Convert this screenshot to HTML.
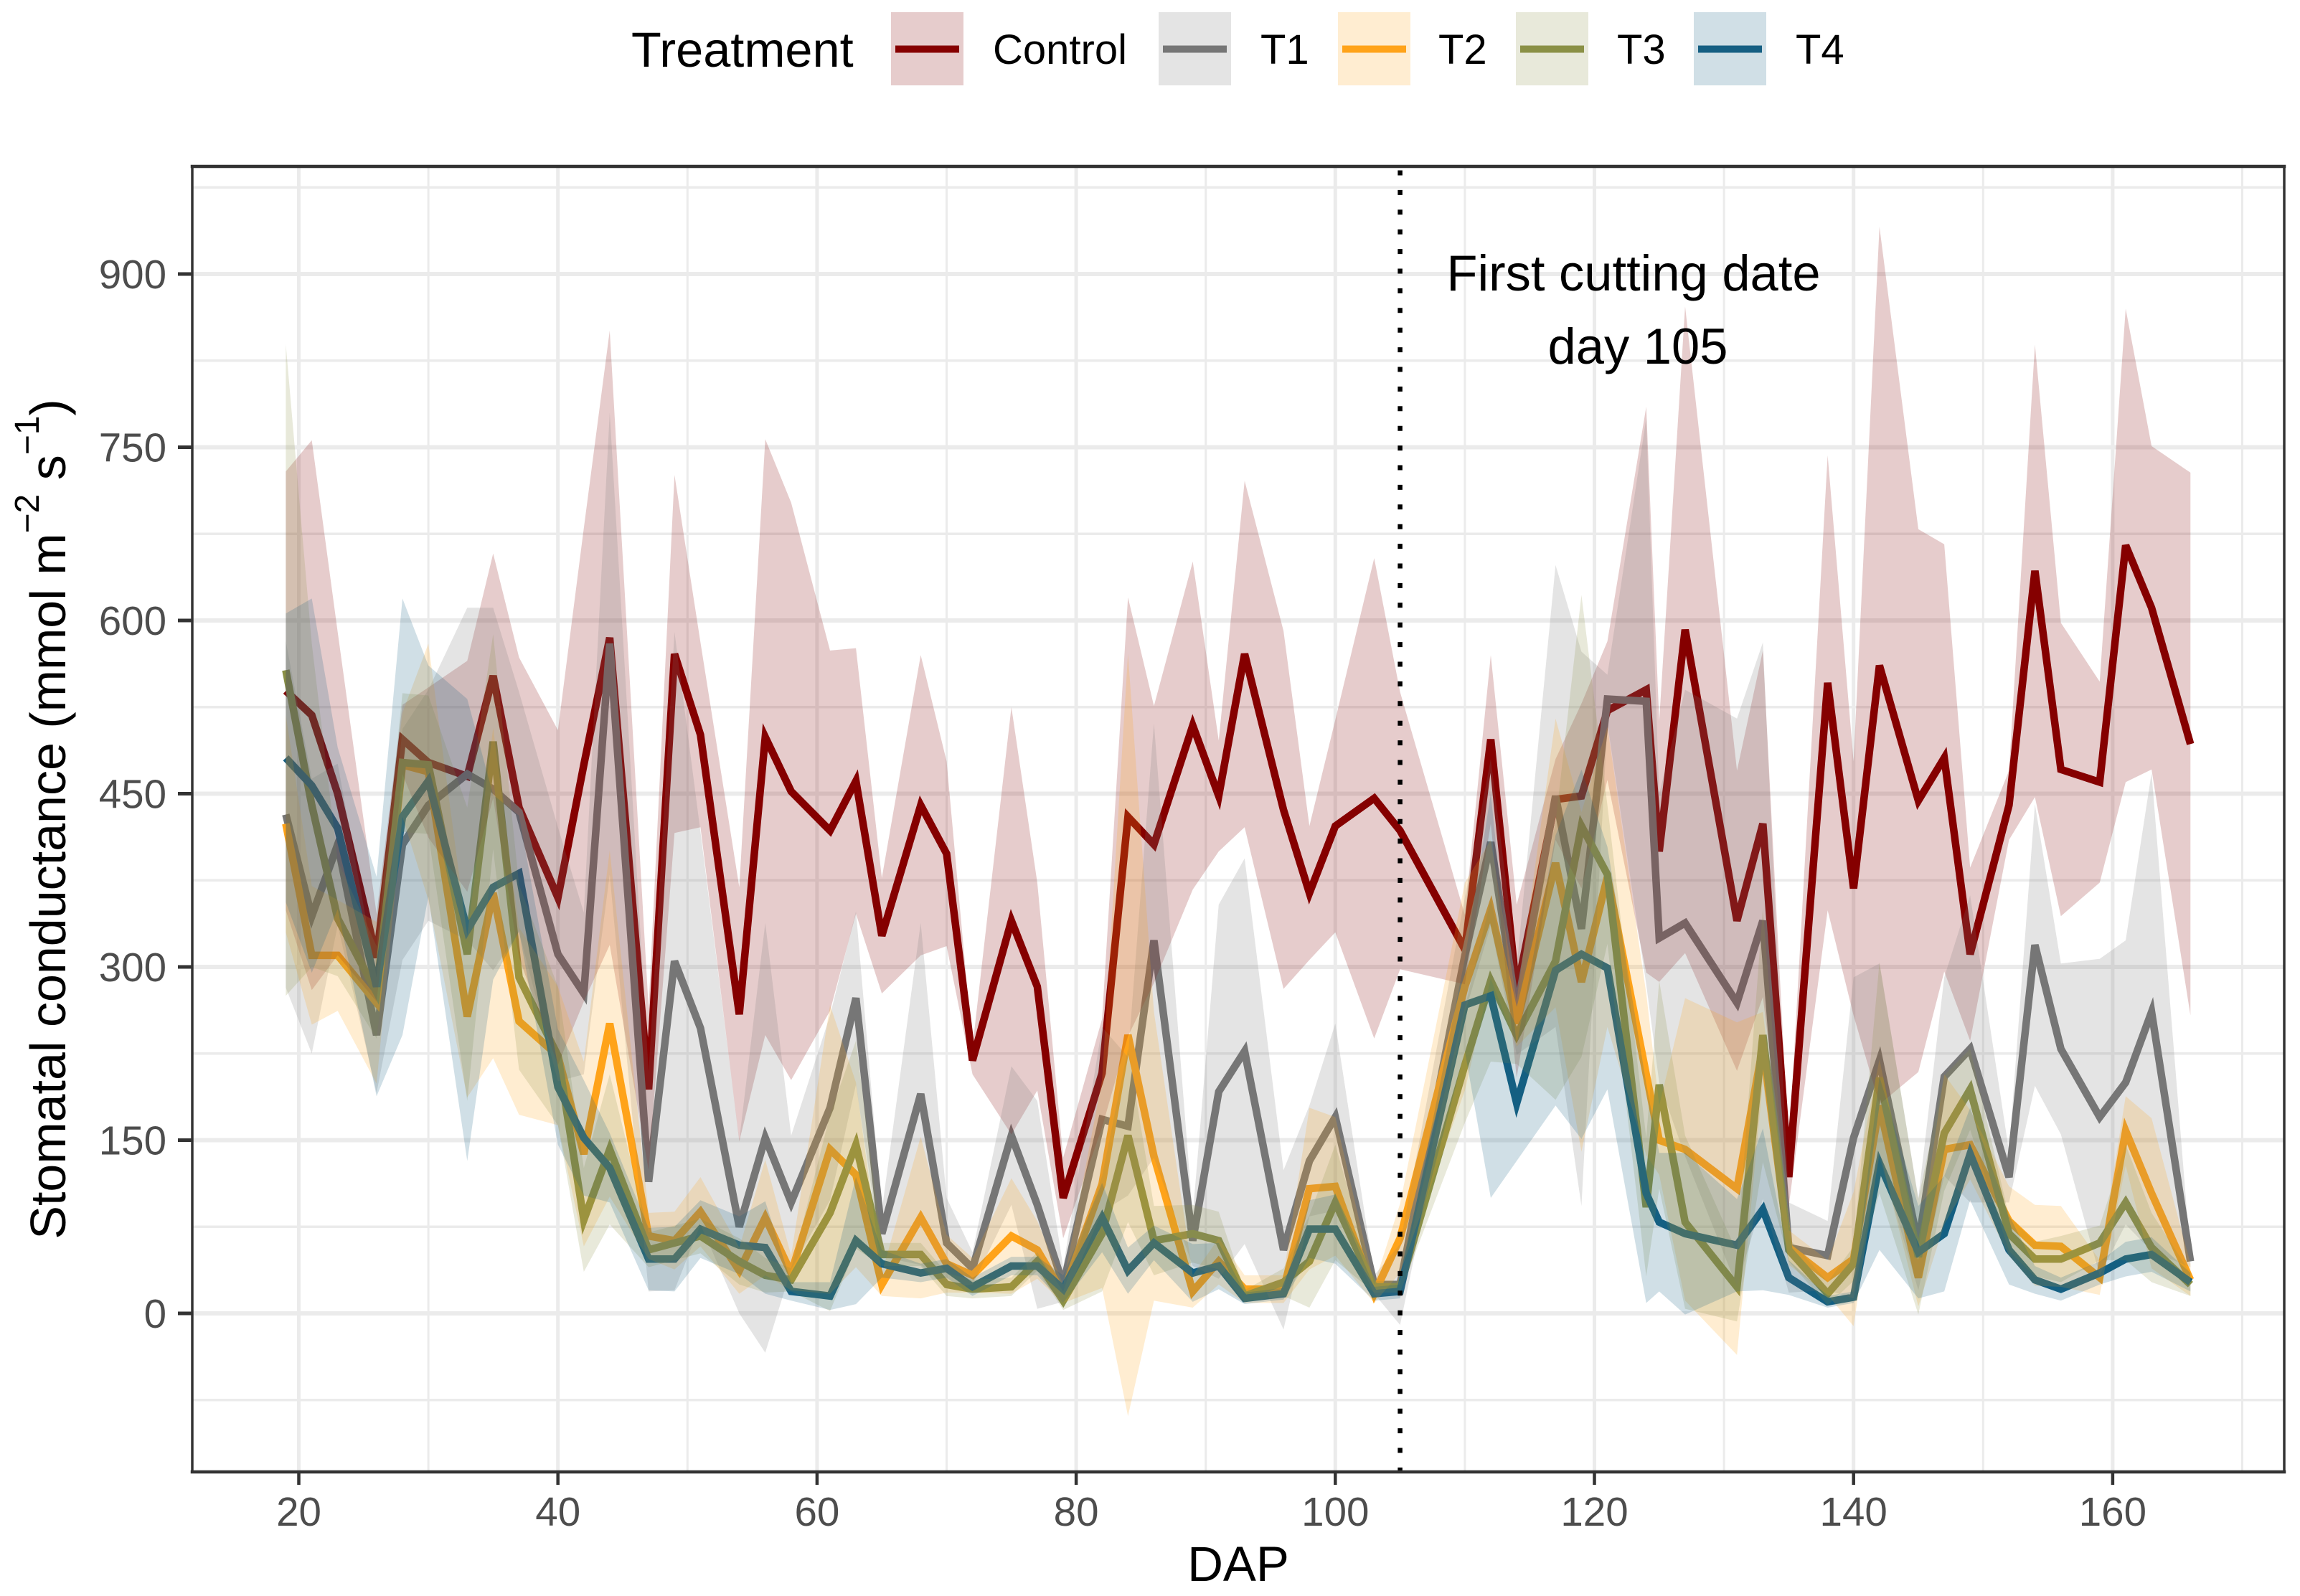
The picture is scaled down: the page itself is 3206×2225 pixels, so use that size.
<!DOCTYPE html>
<html lang="en">
<head>
<meta charset="utf-8">
<title>Stomatal conductance by treatment</title>
<style>
html,body{margin:0;padding:0;background:#fff;}
svg{display:block;}
text{font-family:"Liberation Sans",Arial,sans-serif;}
</style>
</head>
<body>
<svg id="chart" xmlns="http://www.w3.org/2000/svg" width="3206" height="2225" viewBox="0 0 3206 2225">
  <rect x="0" y="0" width="3206" height="2225" fill="#ffffff"/>
  <g id="grid"></g>
  <g id="lines"></g>
  <g id="ribbons"></g>
  <line id="cutline" stroke="#000" stroke-width="6.5" stroke-dasharray="7 20.4"/>
  <g id="frame"></g>
  <g id="axes"></g>

  <text x="2277" y="405" font-size="70.5" text-anchor="middle" fill="#000">First cutting date</text>
  <text x="2283" y="507" font-size="70.5" text-anchor="middle" fill="#000">day 105</text>

  <text x="1726" y="2204" font-size="69" text-anchor="middle" fill="#000">DAP</text>
  <text transform="translate(91 1142) rotate(-90)" font-size="70" text-anchor="middle" fill="#000">Stomatal conductance (mmol m<tspan font-size="48" dy="-37">−2</tspan><tspan dy="37"> s</tspan><tspan font-size="48" dy="-37">−1</tspan><tspan dy="37">)</tspan></text>

  <g id="legend">
    <text x="880" y="93" font-size="68.5" fill="#000">Treatment</text>
  </g>
</svg>
<script>
const days = [19,21,23,26,28,30,33,35,37,40,42,44,47,49,51,54,56,58,61,63,65,68,70,72,75,77,79,82,84,86,89,91,93,96,98,100,103,105,110,112,114,117,119,121,124,125,127,131,133,135,138,140,142,145,147,149,152,154,156,159,161,163,166];

const controlMean = [539,518,450,308,497,477,465,552,438,360,475,585,194,571,501,259,499,452,418,461,327,440,398,219,340,283,100,208,430,406,509,448,571,436,364,422,446,418,315,497,279,445,448,522,540,400,592,340,424,118,546,368,561,444,481,311,440,643,471,460,665,611,493];
const controlErr = [190,238,140,38,30,65,100,106,130,145,205,266,70,155,80,110,258,250,156,115,50,130,80,12,185,90,35,47,190,120,142,48,150,155,58,92,208,120,30,73,75,35,80,60,245,113,280,130,150,25,197,110,380,235,185,75,30,196,127,87,205,140,235];

const t1Mean = [432,344,406,241,406,440,467,454,434,311,277,580,114,305,247,75,152,96,178,273,69,190,61,39,154,94,25,168,162,323,63,192,227,55,132,170,25,25,310,408,262,448,333,532,530,325,338,269,340,57,50,152,219,60,205,229,118,319,229,170,200,261,45];
const t1Err = [150,119,70,50,100,100,144,157,104,110,70,200,95,285,170,75,186,58,80,75,20,148,39,14,60,90,15,80,60,188,22,162,167,69,48,81,8,35,50,72,38,200,240,21,245,125,202,246,241,39,30,139,84,40,86,133,22,122,74,137,123,207,5];

const t2Mean = [424,310,310,269,475,469,257,364,253,223,138,251,67,63,88,37,83,35,142,120,25,83,43,33,67,55,17,112,241,136,19,45,21,21,108,110,17,65,283,350,251,390,287,378,207,150,142,108,231,57,31,47,180,31,142,146,80,59,58,31,158,104,29];
const t2Err = [94,60,48,70,45,111,70,143,81,60,80,150,20,25,30,20,50,15,125,80,10,70,25,15,50,25,8,90,330,125,14,20,12,12,70,60,8,30,90,60,20,125,147,130,70,30,131,144,30,15,15,58,40,25,65,30,30,35,35,15,30,65,14];

const t3Mean = [557,440,342,278,477,475,311,495,291,223,81,142,55,61,67,45,33,29,87,146,51,51,25,21,23,45,11,69,154,63,69,63,15,27,45,96,23,23,215,288,241,305,422,380,92,198,79,23,241,55,17,43,204,49,156,194,69,47,47,61,96,57,25];
const t3Err = [282,140,50,40,60,60,127,93,80,60,45,65,15,15,15,20,15,10,85,90,10,10,10,8,8,8,8,50,75,30,25,25,5,12,40,50,5,5,50,70,25,120,200,60,60,90,75,30,110,10,10,15,100,50,50,35,15,15,20,15,50,30,10];

const t4Mean = [481,457,420,283,430,461,332,369,381,196,152,126,47,47,73,59,57,19,15,63,43,35,39,23,41,41,21,83,37,61,35,41,13,17,73,73,17,19,267,275,182,297,311,299,104,79,69,59,90,31,10,14,130,53,69,138,55,29,21,35,47,51,27];
const t4Err = [125,162,70,95,189,100,200,80,50,50,50,30,27,28,25,25,40,8,12,55,12,8,8,8,8,8,12,30,20,15,25,20,5,5,25,30,6,6,40,175,50,117,160,105,95,60,70,40,70,15,5,5,75,40,50,40,30,12,10,10,15,15,8];

const seriesNames = ["Control","T1","T2","T3","T4"];
const seriesColors = ["#860000","#767676","#ffa319","#8a9045","#155f83"];
const ribbonColors = ["#800000","#767676","#ffa319","#8a9045","#155f83"];
const seriesMeans = [controlMean,t1Mean,t2Mean,t3Mean,t4Mean];
const seriesErrs = [controlErr,t1Err,t2Err,t3Err,t4Err];

const xMajorTicks = [20,40,60,80,100,120,140,160];
const xMinorTicks = [30,50,70,90,110,130,150,170];
const yMajorTicks = [0,150,300,450,600,750,900];
const yMinorTicks = [-75,75,225,375,525,675,825,975];
const cutDay = 105;

const panel = {left:268, right:3184, top:232, bottom:2052};
const NS = "http://www.w3.org/2000/svg";
function xScale(d){ return 416.5 + 18.06 * (d - 20); }
function yScale(v){ return 1831 - 1.61 * v; }
function make(tag, parent, attrs){
  const el = document.createElementNS(NS, tag);
  for (const k in attrs) el.setAttribute(k, attrs[k]);
  parent.appendChild(el);
  return el;
}

const grid = document.getElementById("grid");
yMinorTicks.forEach(v => {
  const el = make("line", grid, {x1:panel.left, x2:panel.right, y1:yScale(v), y2:yScale(v), stroke:"#ebebeb", "stroke-width":3.5});
  
  
});
xMinorTicks.forEach(d => {
  const el = make("line", grid, {x1:xScale(d), x2:xScale(d), y1:panel.top, y2:panel.bottom, stroke:"#ebebeb", "stroke-width":3});
  
  
});
yMajorTicks.forEach(v => {
  const el = make("line", grid, {x1:panel.left, x2:panel.right, y1:yScale(v), y2:yScale(v), stroke:"#ebebeb", "stroke-width":6});
  
  
});
xMajorTicks.forEach(d => {
  const el = make("line", grid, {x1:xScale(d), x2:xScale(d), y1:panel.top, y2:panel.bottom, stroke:"#ebebeb", "stroke-width":5});
  
  
});

const linesG = document.getElementById("lines");
const ribbonsG = document.getElementById("ribbons");
seriesNames.forEach((name, s) => {
  const mean = seriesMeans[s];
  const err = seriesErrs[s];
  const linePts = days.map((d, i) => xScale(d).toFixed(1) + "," + yScale(mean[i]).toFixed(1));
  const upper = days.map((d, i) => xScale(d).toFixed(1) + "," + yScale(mean[i] + err[i]).toFixed(1));
  const lower = days.map((d, i) => xScale(d).toFixed(1) + "," + yScale(mean[i] - err[i]).toFixed(1)).reverse();
  const line = make("polyline", linesG, {points:linePts.join(" "), fill:"none", stroke:seriesColors[s], "stroke-width":10.5, "stroke-linejoin":"miter", "stroke-miterlimit":4});
  
  
  const rib = make("polygon", ribbonsG, {points:upper.concat(lower).join(" "), fill:ribbonColors[s], "fill-opacity":0.2, stroke:"none"});
  
  
});

const cut = document.getElementById("cutline");
cut.setAttribute("x1", xScale(cutDay));
cut.setAttribute("x2", xScale(cutDay));
cut.setAttribute("y1", 237.5);
cut.setAttribute("y2", panel.bottom);

const frame = document.getElementById("frame");
const frameSides = [
  ["panel-border-left", panel.left, panel.top, panel.left, panel.bottom, 3.5],
  ["panel-border-right", panel.right, panel.top, panel.right, panel.bottom, 3.5],
  ["panel-border-top", panel.left, panel.top, panel.right, panel.top, 4.5],
  ["panel-border-bottom", panel.left, panel.bottom, panel.right, panel.bottom, 4.5]
];
frameSides.forEach(f => {
  const el = make("line", frame, {x1:f[1], y1:f[2], x2:f[3], y2:f[4], stroke:"#333333", "stroke-width":f[5], "stroke-linecap":"square"});
  
  
});

const axes = document.getElementById("axes");
yMajorTicks.forEach(v => {
  const tick = make("line", axes, {x1:248, x2:panel.left, y1:yScale(v), y2:yScale(v), stroke:"#333333", "stroke-width":5});
  
  
  const label = make("text", axes, {x:232, y:yScale(v) + 20, "font-size":56.5, "text-anchor":"end", fill:"#4d4d4d"});
  
  
  label.textContent = String(v);
});
xMajorTicks.forEach(d => {
  const tick = make("line", axes, {x1:xScale(d), x2:xScale(d), y1:panel.bottom, y2:2070, stroke:"#333333", "stroke-width":4.5});
  
  
  const label = make("text", axes, {x:xScale(d), y:2127, "font-size":56.5, "text-anchor":"middle", fill:"#4d4d4d"});
  
  
  label.textContent = String(d);
});

const legendKeyStarts = [1242,1615,1865,2113,2361];
const legendLabelStarts = [1384,1757,2005,2254,2503];
const legendG = document.getElementById("legend");
seriesNames.forEach((name, s) => {
  const key = make("rect", legendG, {x:legendKeyStarts[s], y:17, width:101, height:102, fill:ribbonColors[s], "fill-opacity":0.2});
  
  
  const ln = make("line", legendG, {x1:legendKeyStarts[s] + 6, x2:legendKeyStarts[s] + 95, y1:68.5, y2:68.5, stroke:seriesColors[s], "stroke-width":10});
  
  
  const tx = make("text", legendG, {x:legendLabelStarts[s], y:89, "font-size":58, fill:"#000"});
  
  
  tx.textContent = name;
});
</script>
</body>
</html>
